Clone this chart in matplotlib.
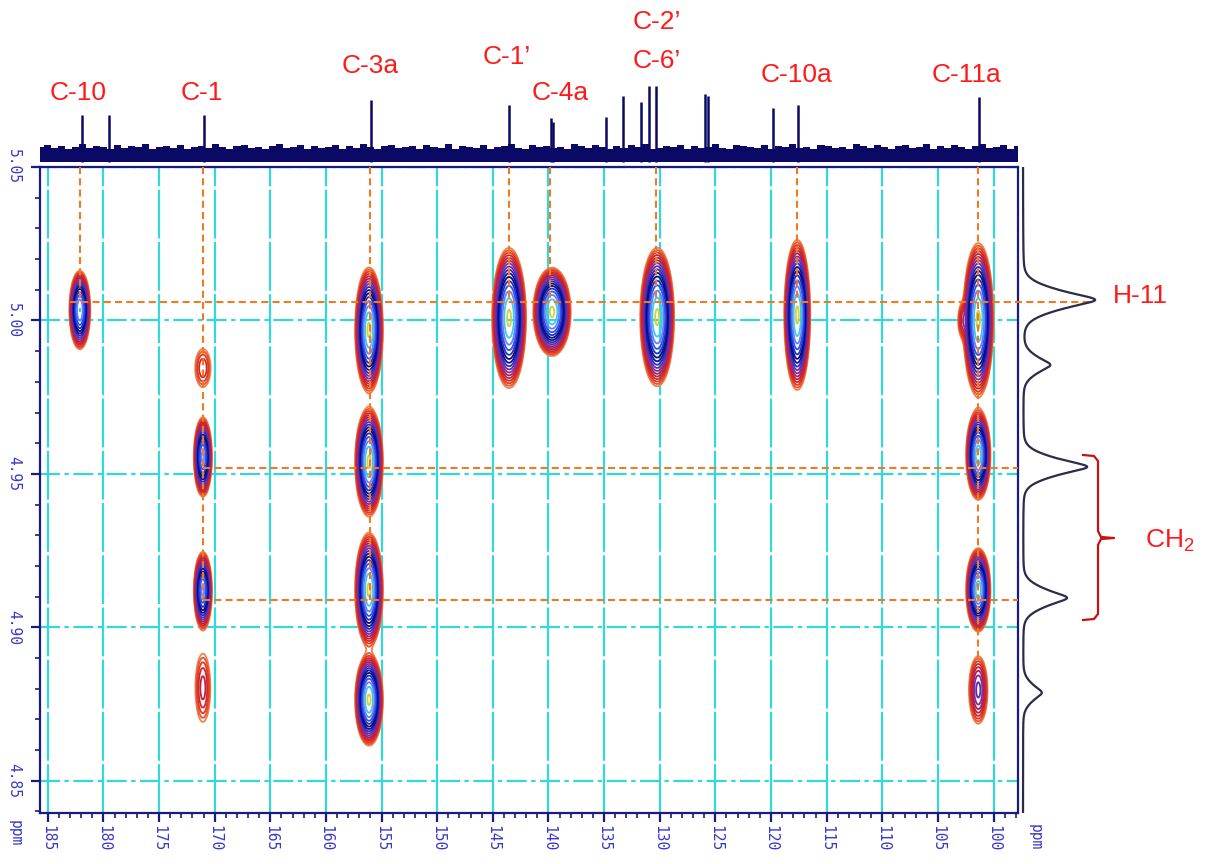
import numpy as np
import matplotlib
matplotlib.use("Agg")
import matplotlib.pyplot as plt
from matplotlib.lines import Line2D
from matplotlib.ticker import MultipleLocator, FormatStrFormatter

plt.rcParams["mathtext.fontset"] = "custom"
plt.rcParams["mathtext.rm"] = "Liberation Sans"
plt.rcParams["mathtext.it"] = "Liberation Sans"

# ---- 13C projection (top trace): peak positions (ppm) and heights ----
c13_ppm = [181.94, 179.51, 170.97, 155.95, 143.54, 139.77, 139.60, 134.82,
           133.29, 131.70, 130.96, 130.32, 125.92, 125.65, 119.80, 117.60, 101.30]
c13_height = [47, 47, 47, 62, 57, 44, 40, 45, 66, 60, 76, 76, 68, 66, 54, 57, 65]
c13_noise = [15, 17, 14, 16, 13, 15, 18, 14, 16, 15, 13, 17, 14, 16, 15, 18, 13, 15, 16, 14,
             17, 13, 15, 16, 14, 18, 15, 13, 16, 17, 14, 15, 13, 16, 18, 14, 15, 17, 13, 16,
             14, 15, 17, 13, 16, 14, 18, 15, 13, 16, 17, 14, 15, 16, 13, 17, 15, 14, 18, 13,
             16, 15, 14, 17, 13, 15, 16, 18, 14, 13, 17, 15, 16, 14, 15, 13, 18, 16, 14, 17,
             15, 13, 16, 14, 17, 15, 18, 13, 14, 16, 15, 17, 13, 16, 14, 15, 18, 14, 13, 17,
             16, 15, 14, 17, 13, 16, 15, 18, 14, 15, 13, 17, 16, 14, 15, 13, 18, 16, 14, 17,
             15, 13, 16, 17, 14, 15, 18, 13, 16, 14, 17, 15, 13, 16, 18, 14, 15, 17, 13, 16]

# ---- 1H projection (right trace) ----
h1_ppm = [5.0067, 4.9855, 4.9523, 4.9096, 4.8787]
h1_int = [1.00, 0.375, 0.89, 0.61, 0.26]
h1_sigma = [0.0035, 0.0030, 0.0032, 0.0032, 0.0030]
h1_gamma = [0.0020, 0.0018, 0.0018, 0.0018, 0.0018]

# ---- HMBC cross peaks: 13C shift, 1H shift, widths (sigma) and intensity ----
xp_c = [182.12, 171.06, 171.06, 171.06, 171.06, 156.13, 156.13, 156.13, 156.13,
        143.54, 139.68, 130.23, 117.64, 101.37, 101.37, 101.37, 101.37, 102.80]
xp_h = [5.0034, 4.9845, 4.9555, 4.9119, 4.8803, 4.9969, 4.9539, 4.9122, 4.8764,
        5.0008, 5.0028, 5.0011, 5.0018, 5.0002, 4.9562, 4.9122, 4.8796, 5.0000]
xp_sc = [0.36, 0.50, 0.32, 0.32, 0.45, 0.46, 0.46, 0.46, 0.46,
         0.56, 0.62, 0.56, 0.43, 0.50, 0.41, 0.41, 0.44, 0.27]
xp_sh = [0.0049, 0.0045, 0.0051, 0.0050, 0.0075, 0.0075, 0.0065, 0.0068, 0.0055,
         0.0084, 0.0053, 0.0083, 0.0090, 0.0092, 0.0055, 0.0051, 0.0058, 0.0036]
xp_amp = [30, 2.6, 25, 25, 3.0, 40, 40, 40, 40,
          40, 40, 40, 40, 40, 35, 35, 6, 2.5]

# ---- assignment labels ----
c_labels = ["C-10", "C-1", "C-3a", "C-1\u2019", "C-4a", "C-2\u2019", "C-6\u2019", "C-10a", "C-11a"]
h11_ppm = 5.006
ch2_ppm = [4.952, 4.909]
link_c = [182.12, 171.06, 156.05, 143.54, 139.86, 130.30, 117.64, 101.40]
link_end = [5.006, 4.909, 4.909, 5.006, 5.006, 5.006, 5.006, 4.889]

x_ticks = list(range(100, 186, 5))
y_ticks = [4.85, 4.90, 4.95, 5.00, 5.05]

W, H = 1214, 864
fig = plt.figure(figsize=(W / 100, H / 100), dpi=100)


def fx(x):
    return x / W


def fy(y):
    return 1 - y / H


XLIM = (185.7, 97.8)
YLIM = (4.8395, 5.05)
NAVY = "#1a1a80"
CYAN = "#35d8d8"
ORANGE = "#f07a22"
TICKC = "#3838c8"

ax = fig.add_axes([fx(40), fy(813), fx(1018) - fx(40), fy(167) - fy(813)])
ax_top = fig.add_axes([fx(40), fy(167), fx(1018) - fx(40), fy(80) - fy(167)], sharex=ax)
ax_r = fig.add_axes([fx(1018), fy(813), fx(1108) - fx(1018), fy(167) - fy(813)], sharey=ax)

ax.set_xlim(*XLIM)
ax.set_ylim(*YLIM)

# grid
for xt in x_ticks:
    ax.axvline(xt, color=CYAN, lw=1.6, ls=(0, (22, 1.5)), zorder=1)
for yt in y_ticks:
    ax.axhline(yt, color=CYAN, lw=1.6, ls=(0, (9, 2, 2, 2)), zorder=1)

# contour map
gx = np.arange(XLIM[1], XLIM[0], 0.06)
gy = np.arange(YLIM[0], YLIM[1], 0.0004)
GX, GY = np.meshgrid(gx, gy)
Z = np.zeros_like(GX)
for c, h, sc, sh, a in zip(xp_c, xp_h, xp_sc, xp_sh, xp_amp):
    Z += a * np.exp(-0.5 * (((GX - c) / sc) ** 2 + ((GY - h) / sh) ** 2))

levels = np.geomspace(1.0, 38.0, 16)
level_colors = ["#f08050", "#e85530", "#e03a20", "#d02828", "#c02040", "#a82060",
                "#8a2a90", "#5a30b0", "#2a2ac8", "#101090", "#0c0c70", "#1a30d0",
                "#3050f0", "#6080ff", "#40c8e0", "#d0d040"]
ax.contour(GX, GY, Z, levels=levels, colors=level_colors, linewidths=1.3, zorder=3)

# assignment guide lines
dash = (0, (3.4, 2.0))
for c, yend in zip(link_c, link_end):
    ax.plot([c, c], [YLIM[1], yend], color=ORANGE, lw=1.5, ls=dash, zorder=4)
ax.plot([183.0, 91.3], [h11_ppm, h11_ppm], color=ORANGE, lw=1.5, ls=dash,
        zorder=4, clip_on=False)
for yy in ch2_ppm:
    ax.plot([171.06, XLIM[1]], [yy, yy], color=ORANGE, lw=1.5, ls=dash, zorder=4)

# axes styling
for s in ax.spines.values():
    s.set_color(NAVY)
    s.set_linewidth(1.6)
ax.xaxis.set_major_locator(MultipleLocator(5))
ax.xaxis.set_minor_locator(MultipleLocator(1))
ax.yaxis.set_major_locator(MultipleLocator(0.05))
ax.yaxis.set_minor_locator(MultipleLocator(0.01))
ax.xaxis.set_major_formatter(FormatStrFormatter("%d"))
ax.yaxis.set_major_formatter(FormatStrFormatter("%.2f"))
ax.tick_params(axis="both", which="major", direction="out", length=6.5, width=1.6,
               color=NAVY, labelcolor=TICKC, labelsize=10.5)
ax.tick_params(axis="both", which="minor", direction="out", length=3.5, width=1.2, color=NAVY)
ax.tick_params(axis="x", which="major", pad=2)
ax.tick_params(axis="y", which="major", pad=7)
ax.tick_params(top=False, right=False, which="both")
for lab in ax.get_xticklabels():
    lab.set_rotation(-90)
    lab.set_family("DejaVu Sans Mono")
    lab.set_va("top")
    lab.set_ha("center")
for lab in ax.get_yticklabels():
    lab.set_rotation(-90)
    lab.set_family("DejaVu Sans Mono")
    lab.set_va("center")
    lab.set_ha("right")

fig.text(fx(15), fy(820), "ppm", rotation=-90, color=TICKC, fontsize=10.5,
         family="DejaVu Sans Mono", ha="center", va="top")
fig.text(fx(1035), fy(824), "ppm", rotation=-90, color=TICKC, fontsize=10.5,
         family="DejaVu Sans Mono", ha="center", va="top")

# top 13C trace
ax_top.set_ylim(-5, 82)
noise_x = np.linspace(XLIM[0], XLIM[1], len(c13_noise))
ax_top.fill_between(noise_x, 0, c13_noise, step="mid", color="#0a0a66", lw=0)
ax_top.vlines(c13_ppm, 0, c13_height, color="#0a0a66", lw=1.8)
ax_top.axis("off")

# right 1H trace
ax_r.set_xlim(-0.069, 1.18)
ty = np.linspace(YLIM[0], YLIM[1], 2000)
spec = np.zeros_like(ty)
for p, a, s, g in zip(h1_ppm, h1_int, h1_sigma, h1_gamma):
    d = ty - p
    spec += a * (0.6 * np.exp(-0.5 * (d / s) ** 2) + 0.4 * g ** 2 / (g ** 2 + d ** 2))
ax_r.plot(spec, ty, color="#2b2b4a", lw=1.6)
ax_r.axis("off")

# labels
RED = "#ff1a1a"
lab_pos = [(78, 93), (202, 93), (370, 66), (507, 57), (560, 93),
           (657, 22), (657, 61), (797, 75), (966, 75)]
for t, (x, y) in zip(c_labels, lab_pos):
    fig.text(fx(x), fy(y), t, color=RED, fontsize=19, family="Liberation Sans",
             ha="center", va="center")
fig.text(fx(1140), fy(296), "H-11", color=RED, fontsize=19, family="Liberation Sans",
         ha="center", va="center")
fig.text(fx(1170), fy(541), "CH$_2$", color=RED, fontsize=19, family="Liberation Sans",
         ha="center", va="center")

# bracket for the CH2 pair
bx = [1083, 1094, 1098, 1098, 1101, 1114, 1101, 1098, 1098, 1094, 1083]
by = [455, 456, 461, 531, 537, 538, 539, 545, 614, 619, 620]
fig.add_artist(Line2D([fx(v) for v in bx], [fy(v) for v in by], color="#c81010", lw=1.6,
                      transform=fig.transFigure))

fig.savefig("out.png", dpi=100)
